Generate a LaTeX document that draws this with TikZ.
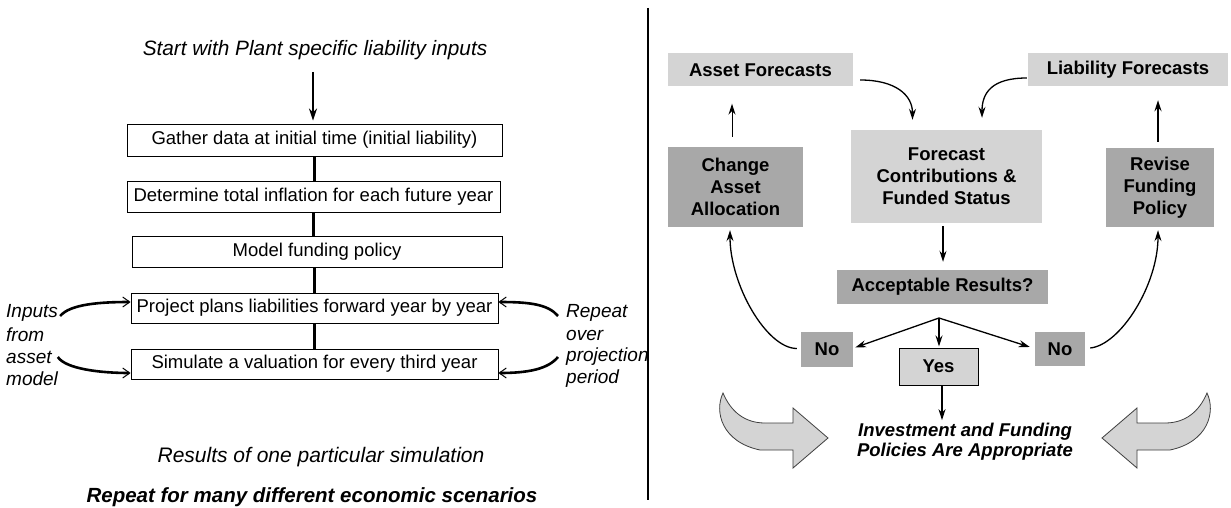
\documentclass[tikz,border=0pt]{standalone}
\usepackage{fontspec}
\setmainfont{Liberation Sans}
\usetikzlibrary{arrows.meta,calc}
\definecolor{lightg}{HTML}{D4D4D4}
\definecolor{darkg}{HTML}{A8A8A8}
\begin{document}
\begin{tikzpicture}[x=1pt,y=-1pt,
  lbox/.style={draw=black,line width=0.9pt,fill=white,inner sep=0pt,font=\fontsize{18.5}{20}\selectfont},
  conn/.style={line width=2.2pt},
  brush/.style={line width=2.6pt,-{Straight Barb[length=7pt,width=10pt,line width=1pt]}},
  itl/.style={font=\itshape\fontsize{19}{21}\selectfont,inner sep=0pt},
  gbox/.style={inner sep=0pt,align=center,font=\bfseries\fontsize{18.5}{22}\selectfont},
  lg/.style={gbox,fill=lightg},
  dg/.style={gbox,fill=darkg},
  rarr/.style={line width=1.3pt,-{Stealth[length=11pt,width=7pt]}},
  fat/.style={fill=lightg,draw=black!75,line width=0.8pt}
]
\useasboundingbox (0,0) rectangle (1231,508);
\fill[white] (0,0) rectangle (1231,508);

% ---------- left panel ----------
\node[inner sep=0pt,font=\itshape\fontsize{20.8}{23}\selectfont] (title) at (315,50) {Start with Plant specific liability inputs};
\node[lbox,minimum width=375pt,minimum height=32pt] (b1) at (314.5,140) {Gather data at initial time (initial liability)};
\node[lbox,minimum width=373pt,minimum height=31pt] (b2) at (313.5,196.5) {Determine total inflation for each future year};
\node[lbox,minimum width=370pt,minimum height=31pt] (b3) at (317,251.5) {Model funding policy};
\node[lbox,minimum width=367pt,minimum height=30pt] (b4) at (314.5,308) {Project plans liabilities forward year by year};
\node[lbox,minimum width=367pt,minimum height=30pt] (b5) at (314.5,364) {Simulate a valuation for every third year};

\draw[line width=2pt,-{Stealth[length=12pt,width=8pt]}] ($(title.south)+(-2,12)$) -- ($(b1.north)+(-1.5,-3)$);
\draw[conn] (b1.south) -- (b1.south |- b2.north);
\draw[conn] (b2.south) -- (b2.south |- b3.north);
\draw[conn] (b4.north |- b3.south) -- (b4.north);
\draw[conn] (b4.south) -- (b5.north);

\node[itl,anchor=west] (l1) at (6,313) {Inputs};
\node[itl,anchor=west] (l2) at (6,335) {from};
\node[itl,anchor=west] (l3) at (6,357) {asset};
\node[itl,anchor=west] (l4) at (6,379) {model};
\node[itl,anchor=west] (r1) at (566,313) {Repeat};
\node[itl,anchor=west] (r2) at (566,335) {over};
\node[itl,anchor=west] (r3) at (566,357) {projection};
\node[itl,anchor=west] (r4) at (566,379) {period};

\draw[brush] ($(l1.east)+(2,3)$) .. controls +(10,-12) and +(-30,0) .. ($(b4.west)+(0,-6)$);
\draw[brush] ($(l3.east)+(6,0)$) .. controls +(8,12) and +(-30,0) .. ($(b5.west)+(0,9)$);
\draw[brush] ($(r1.west)+(-8,3)$) .. controls +(-10,-12) and +(30,0) .. ($(b4.east)+(0,-6)$);
\draw[brush] ($(r3.west)+(-8,0)$) .. controls +(-10,12) and +(30,0) .. ($(b5.east)+(0,9)$);

\node[inner sep=0pt,font=\itshape\fontsize{21}{24}\selectfont] (res) at (321,457) {Results of one particular simulation};
\node[inner sep=0pt,font=\bfseries\itshape\fontsize{20.5}{24}\selectfont] (rep) at (312,497) {Repeat for many different economic scenarios};

% divider
\draw[line width=1.4pt] (648,8) -- (648,500);

% ---------- right panel ----------
\node[lg,minimum width=185pt,minimum height=33pt] (af) at (760.5,70) {Asset Forecasts};
\node[lg,minimum width=200pt,minimum height=33pt] (lf) at (1128,70) {Liability Forecasts};
\node[lg,minimum width=191pt,minimum height=93pt] (fc) at (946.5,176.5) {Forecast\\Contributions \&\\Funded Status};
\node[dg,minimum width=135pt,minimum height=80pt] (ca) at (735.5,187) {Change\\Asset\\Allocation};
\node[dg,minimum width=108pt,minimum height=79pt] (rf) at (1160,187.5) {Revise\\Funding\\Policy};
\node[dg,minimum width=211pt,minimum height=34pt] (ar) at (942.5,287) {Acceptable Results?};
\node[dg,minimum width=52pt,minimum height=35pt] (nl) at (827,349.5) {No};
\node[lg,draw=black,line width=1pt,minimum width=79pt,minimum height=37pt] (ys) at (938.5,366.5) {Yes};
\node[dg,minimum width=50pt,minimum height=34pt] (nr) at (1060,349) {No};
\node[gbox,font=\bfseries\itshape\fontsize{18.5}{20}\selectfont] (inv) at (965,442) {Investment and Funding\\Policies Are Appropriate};
\coordinate (sp) at (939,318);

\draw[rarr] ($(af.east)+(7,10)$) .. controls +(35,0) and +(0,-25) .. ($(fc.north)+(-34,-10)$);
\draw[rarr] ($(lf.west)+(-1,8)$) .. controls +(-35,0) and +(0,-25) .. ($(fc.north)+(35.5,-12)$);
\draw[line width=1pt,-{Stealth[length=11pt,width=7pt]}] ($(ca.north)+(-3.5,-10)$) -- ($(af.south)+(-28.5,17)$);
\draw[line width=1.8pt,-{Stealth[length=11pt,width=7pt]}] ($(rf.north)+(-2,-6)$) -- ($(lf.south)+(30,13.5)$);
\draw[rarr] ($(fc.south)+(-3.5,3)$) -- ($(ar.north)+(0.5,-8)$);
\draw[rarr] (sp) -- ($(nl.east)+(2,-2)$);
\draw[rarr] (sp) -- ($(ys.north)+(0.5,-1)$);
\draw[rarr] (sp) -- ($(nr.west)+(-5,-2)$);
\draw[rarr] ($(nl.west)+(-4,-1)$) .. controls +(-30,0) and +(0,55) .. ($(ca.south)+(-5.5,3)$);
\draw[rarr] ($(nr.east)+(5,-1)$) .. controls +(30,-3) and +(0,55) .. ($(rf.south)+(-2,3)$);
\draw[rarr] ($(ys.south)+(3.5,0)$) -- ($(inv.north)+(-23,-3)$);

% big arrows
\draw[fat] (723,393) .. controls (714,412) and (722,442) .. (760,450) -- (793,450) -- (793,468) -- (828,438) -- (793,408) -- (793,423) -- (765,423) .. controls (745,423) and (731,412) .. (723,393) -- cycle;
\begin{scope}[xshift=1930pt,xscale=-1]
\draw[fat] (723,393) .. controls (714,412) and (722,442) .. (760,450) -- (793,450) -- (793,468) -- (828,438) -- (793,408) -- (793,423) -- (765,423) .. controls (745,423) and (731,412) .. (723,393) -- cycle;
\end{scope}
\end{tikzpicture}
\end{document}
